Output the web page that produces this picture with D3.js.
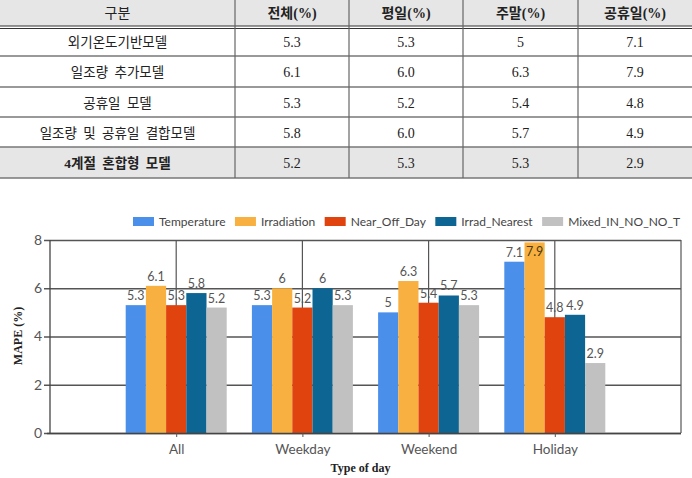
<!DOCTYPE html>
<html>
<head>
<meta charset="utf-8">
<script src="https://cdn.jsdelivr.net/npm/d3@7"></script>
<style>
  body { margin:0; background:#fff; }
  svg { display:block; }
</style>
</head>
<body>
<div id="chart"></div>
<script>
// table + grouped bar chart (MAPE by type of day)
const categories = ['All', 'Weekday', 'Weekend', 'Holiday'];
const seriesNames = ['Temperature', 'Irradiation', 'Near_Off_Day', 'Irrad_Nearest', 'Mixed_IN_NO_NO_T'];
const temperature = [5.3, 5.3, 5, 7.1];
const irradiation = [6.1, 6.0, 6.3, 7.9];
const nearOffDay = [5.3, 5.2, 5.4, 4.8];
const irradNearest = [5.8, 6.0, 5.7, 4.9];
const mixed = [5.2, 5.3, 5.3, 2.9];
const yTicks = [0, 2, 4, 6, 8];

const tableHeader = ['구분', '전체(%)', '평일(%)', '주말(%)', '공휴일(%)'];
const modelNames = ['외기온도기반모델', '일조량 추가모델', '공휴일 모델', '일조량 및 공휴일 결합모델', '4계절 혼합형 모델'];

const seriesValues = [temperature, irradiation, nearOffDay, irradNearest, mixed];
const colors = ['#4a8fea', '#f8b141', '#e0430d', '#0c6592', '#c1c1c1'];

const W = 692, H = 478;
const svg = d3.select('#chart').append('svg').attr('width', W).attr('height', H);

// ---------- table ----------
const colX = [0, 235, 349, 463, 578, 692];
const rowY = [0, 26, 56, 87, 117, 147, 178];
const tbl = svg.append('g').attr('class', 'table');
const serifKr = '"Liberation Serif", "Noto Sans CJK KR", serif';

tbl.append('rect').attr('x', 0).attr('y', rowY[0]).attr('width', W).attr('height', rowY[1] - rowY[0]).attr('fill', '#e6e6e6');
tbl.append('rect').attr('x', 0).attr('y', rowY[5]).attr('width', W).attr('height', rowY[6] - rowY[5]).attr('fill', '#e6e6e6');

// horizontal rules
tbl.selectAll('line.h').data(rowY.slice(1)).enter().append('line')
  .attr('x1', 0).attr('x2', W).attr('y1', d => d).attr('y2', d => d)
  .attr('stroke', (d, i) => i === 0 ? '#333' : '#777')
  .attr('stroke-width', (d, i) => i === 0 ? 1 : 1.3);
tbl.append('line').attr('x1', 0).attr('x2', W).attr('y1', rowY[1] + 2.5).attr('y2', rowY[1] + 2.5)
  .attr('stroke', '#333').attr('stroke-width', 1);
// vertical rules
tbl.selectAll('line.v').data(colX.slice(1, -1)).enter().append('line')
  .attr('x1', d => d).attr('x2', d => d).attr('y1', 0).attr('y2', rowY[6])
  .attr('stroke', '#666').attr('stroke-width', 1.2);

const cx = i => (colX[i] + colX[i + 1]) / 2;
tbl.selectAll('text.hd').data(tableHeader).enter().append('text')
  .attr('x', (d, i) => cx(i)).attr('y', 13).attr('dy', '0.35em')
  .attr('text-anchor', 'middle').attr('font-family', serifKr)
  .attr('font-size', 14).attr('fill', '#222')
  .attr('font-weight', (d, i) => i === 0 ? 'normal' : 'bold')
  .text(d => d);

const fmtCell = v => (v === 5 ? '5' : v.toFixed(1));
modelNames.forEach((name, r) => {
  const yc = (rowY[r + 1] + rowY[r + 2]) / 2 + 1;
  const g = tbl.append('g');
  g.append('text').attr('x', cx(0)).attr('y', yc).attr('dy', '0.35em')
    .attr('text-anchor', 'middle').attr('font-family', serifKr)
    .attr('font-size', 13.5).attr('fill', '#222')
    .attr('font-weight', r === 4 ? 'bold' : 'normal')
    .attr('word-spacing', 3)
    .text(name);
  g.selectAll('text.v').data(seriesValues[r]).enter().append('text')
    .attr('x', (d, i) => cx(i + 1)).attr('y', yc).attr('dy', '0.35em')
    .attr('text-anchor', 'middle').attr('font-family', serifKr)
    .attr('font-size', 14).attr('fill', '#222')
    .text(d => fmtCell(d));
});

// ---------- chart ----------
const plot = { left: 50, right: 681, top: 240, bottom: 433 };
const x = d3.scalePoint().domain(categories).range([plot.left, plot.right]).padding(1);
const xs = d3.scaleBand().domain(seriesNames).range([-50.5, 50.5]).paddingInner(0);
const y = d3.scaleLinear().domain([0, 8]).range([plot.bottom, plot.top]);

const font = 'Lato, "DejaVu Sans", sans-serif';

// horizontal gridlines + y ticks
svg.append('g')
  .attr('transform', `translate(${plot.left},0)`)
  .call(d3.axisLeft(y).tickValues(yTicks).tickSize(-(plot.right - plot.left)).tickPadding(8).tickFormat(d3.format('d')))
  .call(g => g.select('.domain').remove())
  .call(g => g.selectAll('.tick line').attr('stroke', '#555').attr('stroke-width', 1.3).attr('x1', -6))
  .call(g => g.selectAll('.tick text').attr('font-family', font).attr('font-size', 14).attr('fill', '#555'));

// vertical gridlines at category centers
svg.append('g').selectAll('line').data(categories).enter().append('line')
  .attr('x1', d => x(d)).attr('x2', d => x(d))
  .attr('y1', plot.top).attr('y2', plot.bottom)
  .attr('stroke', '#555').attr('stroke-width', 1.2);

// left and right borders
svg.append('line').attr('x1', plot.left).attr('x2', plot.left).attr('y1', plot.top).attr('y2', plot.bottom)
  .attr('stroke', '#444').attr('stroke-width', 1.3);
svg.append('line').attr('x1', plot.right).attr('x2', plot.right).attr('y1', plot.top).attr('y2', plot.bottom)
  .attr('stroke', '#555').attr('stroke-width', 1.2);

// bars
const groups = svg.append('g').selectAll('g').data(categories).enter().append('g')
  .attr('transform', d => `translate(${x(d)},0)`);

groups.selectAll('rect')
  .data((c, ci) => seriesNames.map((s, si) => ({ s, si, v: seriesValues[si][ci] })))
  .enter().append('rect')
  .attr('x', d => xs(d.s))
  .attr('width', xs.bandwidth())
  .attr('y', d => y(d.v))
  .attr('height', d => y(0) - y(d.v))
  .attr('fill', d => colors[d.si]);

groups.selectAll('text')
  .data((c, ci) => seriesNames.map((s, si) => ({ s, si, v: seriesValues[si][ci] })))
  .enter().append('text')
  .attr('x', d => xs(d.s) + xs.bandwidth() / 2)
  .attr('y', d => (y(d.v) - 16 < plot.top ? y(d.v) + 14 : y(d.v) - 5))
  .attr('text-anchor', 'middle')
  .attr('font-family', font).attr('font-size', 12.5)
  .attr('fill', d => (y(d.v) - 16 < plot.top ? '#4a3a14' : '#555'))
  .text(d => String(d.v));

// x axis
svg.append('g')
  .attr('transform', `translate(0,${plot.bottom})`)
  .call(d3.axisBottom(x).tickSize(4).tickPadding(7))
  .call(g => g.select('.domain').attr('d', `M${plot.left - 3},0.5H${plot.right}`).attr('stroke', '#444').attr('stroke-width', 1.3))
  .call(g => g.selectAll('.tick line').attr('stroke', '#555'))
  .call(g => g.selectAll('.tick text').attr('font-family', font).attr('font-size', 13.5).attr('fill', '#555'));

// axis titles
svg.append('text').attr('x', (plot.left + plot.right) / 2 - 5).attr('y', 472)
  .attr('text-anchor', 'middle').attr('font-family', '"Liberation Serif", serif')
  .attr('font-weight', 'bold').attr('font-size', 12).attr('fill', '#222')
  .text('Type of day');
svg.append('text').attr('transform', 'translate(22,336) rotate(-90)')
  .attr('text-anchor', 'middle').attr('font-family', '"Liberation Serif", serif')
  .attr('font-weight', 'bold').attr('font-size', 12).attr('fill', '#222')
  .text('MAPE (%)');

// legend: spread items between x=133 and x=680
const legend = svg.append('g');
const items = seriesNames.map((s, i) => {
  const item = legend.append('g');
  item.append('rect').attr('x', 0).attr('y', 217).attr('width', 21).attr('height', 9).attr('fill', colors[i]);
  const t = item.append('text').attr('x', 26).attr('y', 226)
    .attr('font-family', font).attr('font-size', 12).attr('fill', '#444').text(s);
  return { item, w: 26 + t.node().getComputedTextLength() };
});
const legendLeft = 133, legendRight = 680;
const gap = (legendRight - legendLeft - d3.sum(items, d => d.w)) / (items.length - 1);
let lx = legendLeft;
items.forEach(d => { d.item.attr('transform', `translate(${lx},0)`); lx += d.w + gap; });
</script>
</body>
</html>
